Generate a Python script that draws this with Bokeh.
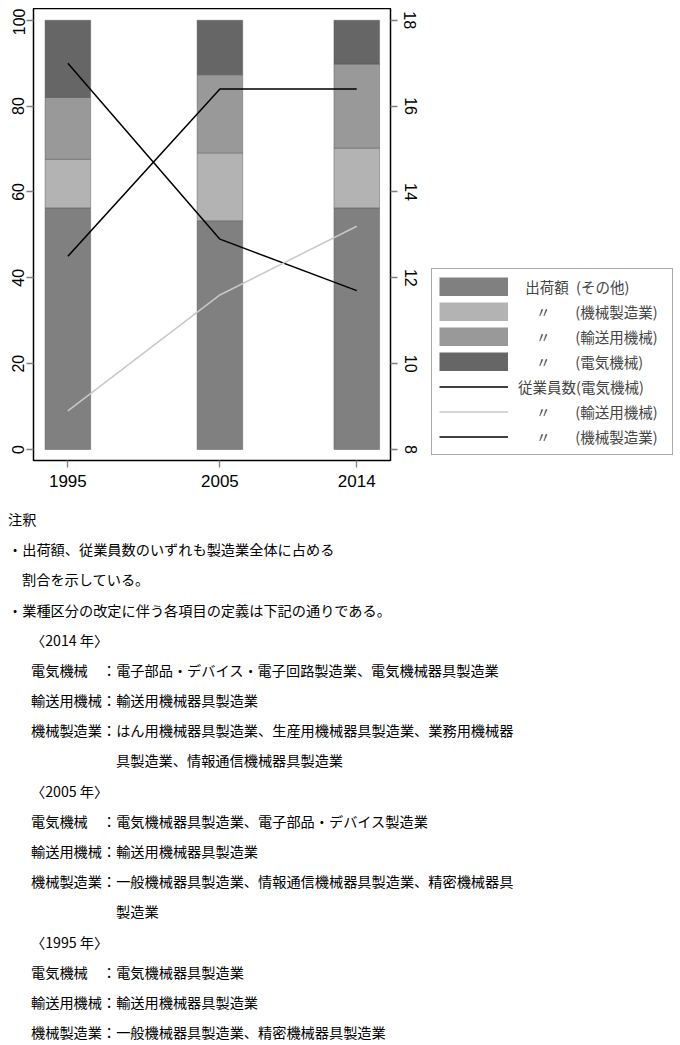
from bokeh.plotting import figure
from bokeh.models import (Range1d, LinearAxis, FixedTicker, Legend, LegendItem,
                          Div, ColumnDataSource)
from bokeh.layouts import column, row
from bokeh.embed import file_html
from bokeh.resources import INLINE

# ---------------- data ----------------
years = [1995, 2005, 2014]
# shipment share (%), stacked bottom -> top
ship_other = [56.3, 53.3, 56.3]       # 出荷額 (その他)
ship_machinery = [11.3, 15.8, 13.9]   # 機械製造業
ship_transport = [14.4, 18.2, 19.6]   # 輸送用機械
ship_electric = [18.0, 12.7, 10.2]    # 電気機械
# employee share (%), right axis
emp_electric = [17.0, 12.9, 11.7]
emp_transport = [8.9, 11.6, 13.2]
emp_machinery = [12.5, 16.4, 16.4]

left_ticks = [0, 20, 40, 60, 80, 100]
right_ticks = [8, 10, 12, 14, 16, 18]

bar_cols = ["other", "machinery", "transport", "electric"]
line_cols = ["emp_e", "emp_t", "emp_m"]
bar_colors = ["#808080", "#b3b3b3", "#999999", "#666666"]
line_colors = ["black", "#c8c8c8", "black"]
DITTO = "\u3000\u2005〃\u3000\u2002\u2009"
legend_labels = [
    "\u2002出荷額\u2002(その他)",
    DITTO + "(機械製造業)\u2002",
    DITTO + "(輸送用機械)",
    DITTO + "(電気機械)",
    "従業員数(電気機械)",
    DITTO + "(輸送用機械)",
    DITTO + "(機械製造業)\u2002",
]

note_lines = [
    (0, "注釈"),
    (0, "・出荷額、従業員数のいずれも製造業全体に占める"),
    (14, "割合を示している。"),
    (0, "・業種区分の改定に伴う各項目の定義は下記の通りである。"),
    (23, "〈2014 年〉"),
    (23, "電気機械\u3000：電子部品・デバイス・電子回路製造業、電気機械器具製造業"),
    (23, "輸送用機械：輸送用機械器具製造業"),
    (23, "機械製造業：はん用機械器具製造業、生産用機械器具製造業、業務用機械器"),
    (108, "具製造業、情報通信機械器具製造業"),
    (23, "〈2005 年〉"),
    (23, "電気機械\u3000：電気機械器具製造業、電子部品・デバイス製造業"),
    (23, "輸送用機械：輸送用機械器具製造業"),
    (23, "機械製造業：一般機械器具製造業、情報通信機械器具製造業、精密機械器具"),
    (108, "製造業"),
    (23, "〈1995 年〉"),
    (23, "電気機械\u3000：電気機械器具製造業"),
    (23, "輸送用機械：輸送用機械器具製造業"),
    (23, "機械製造業：一般機械器具製造業、精密機械器具製造業"),
]

src = ColumnDataSource(dict(
    year=years, other=ship_other, machinery=ship_machinery,
    transport=ship_transport, electric=ship_electric,
    emp_e=emp_electric, emp_t=emp_transport, emp_m=emp_machinery,
))

LAB_FONT = "Liberation Sans"
CJK = "Noto Sans CJK JP"
BAR_LINE = dict(line_color="#4d4d4d", line_width=0.6, line_alpha=0.7)

p = figure(frame_width=357, frame_height=452,
           x_range=Range1d(1992.74, 2016.22), y_range=Range1d(-2.56, 102.73),
           output_backend="svg", toolbar_location=None,
           min_border_left=27, min_border_top=0, min_border_right=40,
           min_border_bottom=40, background_fill_color="white",
           margin=(8, 0, 0, 6))
p.extra_y_ranges = {"emp": Range1d(7.744, 18.273)}
p.grid.visible = False
p.outline_line_color = "black"
p.outline_line_width = 1.5

bars = p.vbar_stack(bar_cols, x="year", width=3.0, color=bar_colors,
                    source=src, **BAR_LINE)
lines = [p.line("year", c, source=src, y_range_name="emp",
                line_color=lc, line_width=1.5)
         for c, lc in zip(line_cols, line_colors)]

right_axis = LinearAxis(y_range_name="emp", ticker=FixedTicker(ticks=right_ticks))
p.add_layout(right_axis, "right")

p.xaxis.ticker = FixedTicker(ticks=years)
p.yaxis[0].ticker = FixedTicker(ticks=left_ticks)

for ax in p.xaxis + p.yaxis:
    ax.axis_line_color = None
    ax.major_tick_line_color = "#808080"
    ax.major_tick_line_width = 1.3
    ax.major_tick_in = 0
    ax.major_tick_out = 7
    ax.minor_tick_line_color = None
    ax.major_label_text_font = LAB_FONT
    ax.major_label_text_color = "black"
for ax in p.yaxis:
    ax.major_label_orientation = "vertical"
    ax.major_label_text_font_size = "16px"
    ax.major_label_standoff = 2
right_axis.major_label_standoff = 7
p.xaxis.major_label_text_font_size = "17px"
p.xaxis.major_label_standoff = 7

# ---------------- legend (panel to the right of the chart) ----------------
# key renderers share the chart's data; they fall outside this panel's ranges,
# so only their legend swatches are visible.  Bar keys are drawn as thick
# butt-capped strokes so that the swatch fills the whole 69x19 key box.
lg = figure(width=250, height=492, x_range=Range1d(0, 1), y_range=Range1d(0, 1),
            x_axis_type=None, y_axis_type=None, output_backend="svg",
            toolbar_location=None, min_border=0, outline_line_color=None,
            margin=(8, 0, 0, 0))
lg.grid.visible = False
key_r = [lg.line("year", c, source=src, line_color=col, line_width=19,
                 line_cap="butt")
         for c, col in zip(bar_cols, bar_colors)]
key_r += [lg.line("year", c, source=src, line_color=lc, line_width=1.5)
          for c, lc in zip(line_cols, line_colors)]
items = [LegendItem(label=lab, renderers=[r]) for lab, r in zip(legend_labels, key_r)]
legend = Legend(items=items, location=(1, 5),
                glyph_width=69, glyph_height=19, label_height=19,
                label_standoff=10, spacing=4, padding=7, margin=0,
                label_text_font=CJK, label_text_font_size="14.5px",
                border_line_color="#555555", border_line_width=1,
                background_fill_color="white", background_fill_alpha=1)
lg.add_layout(legend, "center")

# ---------------- notes ----------------
div_top = 500          # page y of the div top
first_center = 519
step = 30.18
parts = []
for i, (ind, txt) in enumerate(note_lines):
    top = first_center + step * i - 5 - div_top
    parts.append(
        f'<div style="position:absolute;left:{ind}px;top:{top:.1f}px;'
        f'line-height:10px;white-space:nowrap;">{txt}</div>')
html = ('<div style="position:relative;width:660px;height:537px;'
        f"font-family:'{CJK}';font-size:14.2px;color:#000;\">"
        + "".join(parts) + "</div>")
notes = Div(text=html, width=660, height=537, margin=(0, 0, 0, 8))

layout = column(row(p, lg, spacing=0), notes, spacing=0)
open("out.html", "w").write(file_html(layout, INLINE))
